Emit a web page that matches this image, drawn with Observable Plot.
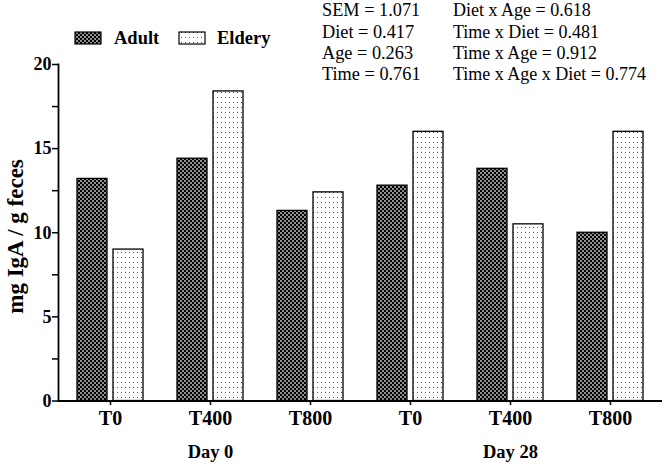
<!DOCTYPE html>
<html><head><meta charset="utf-8">
<script src="https://cdn.jsdelivr.net/npm/d3@7"></script>
<script src="https://cdn.jsdelivr.net/npm/@observablehq/plot@0.6"></script>
<style>
body{margin:0;background:#fff;}
#wrap{position:relative;width:670px;height:467px;font-family:"Liberation Serif","Times New Roman",serif;}
#wrap > svg{position:absolute;left:0;top:0;}
</style></head><body>
<svg width="0" height="0" style="position:absolute"><defs>
<pattern id="adultPat" width="4" height="4" patternUnits="userSpaceOnUse"><rect width="4" height="4" fill="#000"/><rect x="0.25" y="0.25" width="1.5" height="1.5" fill="#fff"/><rect x="2.25" y="2.25" width="1.5" height="1.5" fill="#fff"/></pattern>
<pattern id="elderPat" width="4" height="5" patternUnits="userSpaceOnUse"><rect width="4" height="5" fill="#fff"/><rect x="1" y="2" width="1" height="1" fill="#555"/></pattern>
</defs></svg>
<div id="wrap"></div>
<script>
const groups = ["D0-T0","D0-T400","D0-T800","D28-T0","D28-T400","D28-T800"];
const timeLabels = ["T0","T400","T800","T0","T400","T800"];
const days = ["Day 0","Day 28"];
const dayGroups = ["D0-T400","D28-T400"];
const series = ["Adult","Eldery"];
const adult = [13.2,14.4,11.3,12.8,13.8,10.0];
const eldery = [9.0,18.4,12.4,16.0,10.5,16.0];
const yTicks = [0,2.5,5,7.5,10,12.5,15,17.5,20];
const yLabel = "mg IgA / g feces";
const statsLeft = ["SEM = 1.071","Diet = 0.417","Age = 0.263","Time = 0.761"];
const statsRight = ["Diet x Age = 0.618","Time x Diet = 0.481","Time x Age = 0.912","Time x Age x Diet = 0.774"];

const adultData = groups.map((g,i)=>({group:g, value:adult[i]}));
const elderData = groups.map((g,i)=>({group:g, value:eldery[i]}));
const dayData = days.map((d,i)=>({day:d, group:dayGroups[i]}));

const chart = Plot.plot({
  width:670, height:467,
  marginLeft:58, marginRight:8, marginTop:64, marginBottom:67,
  style:{fontFamily:"'Liberation Serif','Times New Roman',serif", fontSize:"18px", fontWeight:"bold", color:"#000", background:"transparent"},
  x:{type:"band", domain:groups, range:[60,660], paddingInner:0.34, paddingOuter:0.17},
  y:{domain:[0,20], range:[400.5,64]},
  marks:[
    Plot.barY(adultData,{x:"group", y:"value", fill:"url(#adultPat)", stroke:"#000", strokeWidth:1.3, insetRight:36}),
    Plot.barY(elderData,{x:"group", y:"value", fill:"url(#elderPat)", stroke:"#000", strokeWidth:1.3, insetLeft:36}),
    Plot.axisY({ticks:yTicks, tickFormat:d=>d%5===0?String(d):"", tickSize:6, tickPadding:1, strokeWidth:1.5, label:null, fontSize:18, fontWeight:"bold"}),
    Plot.axisX({tickFormat:d=>timeLabels[groups.indexOf(d)], tickSize:5, tickPadding:5, strokeWidth:1.5, label:null, fontSize:20, fontWeight:"bold"}),
    Plot.frame({anchor:"left", strokeWidth:1.8}),
    Plot.ruleY([0],{strokeWidth:1.8}),
    Plot.text(dayData,{x:"group", text:"day", frameAnchor:"bottom", dy:57, fontSize:18.5, fontWeight:"bold"}),
    Plot.text([yLabel],{frameAnchor:"left", textAnchor:"middle", rotate:-90, dx:-43, dy:4, fontSize:23, fontWeight:"bold"})
  ]
});
document.getElementById("wrap").appendChild(chart);

// Overlay: legend and statistics text
const ov = d3.select("#wrap").append("svg").attr("width",670).attr("height",467)
  .style("font-family","'Liberation Serif','Times New Roman',serif");
const legX = [75,179], legTextX = [114,217], legFill = ["url(#adultPat)","url(#elderPat)"];
series.forEach((s,i)=>{
  ov.append("rect").attr("x",legX[i]).attr("y",32).attr("width",26).attr("height",12)
    .attr("fill",legFill[i]).attr("stroke","#000").attr("stroke-width",1.2);
  ov.append("text").attr("x",legTextX[i]).attr("y",44).attr("font-size",18.5).attr("font-weight","bold").text(s);
});
const baseY = [16,38,59,80];
statsLeft.forEach((t,i)=>ov.append("text").attr("x",322).attr("y",baseY[i]).attr("font-size",18.3).text(t));
statsRight.forEach((t,i)=>ov.append("text").attr("x",453).attr("y",baseY[i]).attr("font-size",18).text(t));
</script>
</body></html>
